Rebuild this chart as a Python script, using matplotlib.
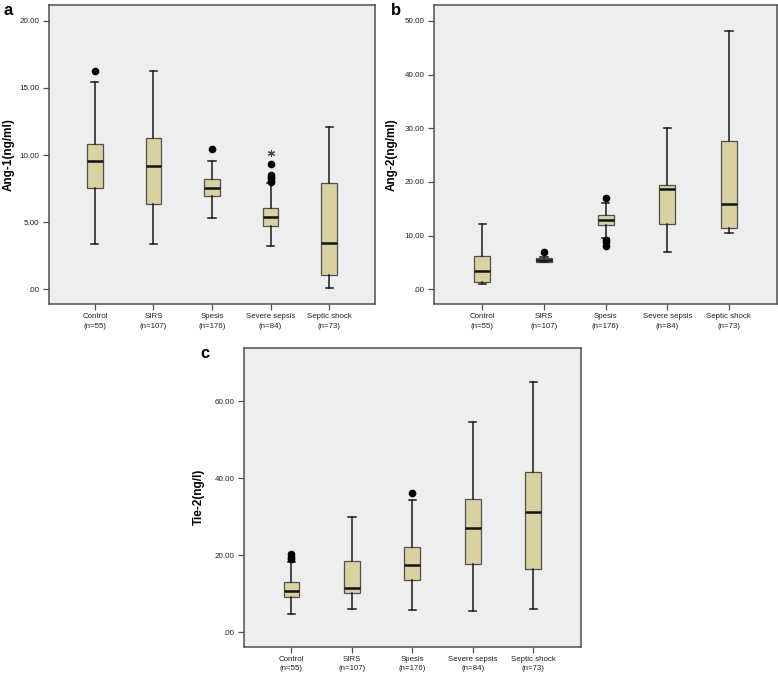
import numpy as np
import matplotlib.pyplot as plt
from matplotlib.ticker import FuncFormatter

plt.rcParams['font.family'] = ['Liberation Sans', 'DejaVu Sans']

groups = ['Control\n(n=55)', 'SIRS\n(n=107)', 'Spesis\n(n=176)',
          'Severe sepsis\n(n=84)', 'Septic shock\n(n=73)']

# Ang-1 (ng/ml)
ang1_low = [3.35, 3.35, 5.31, 3.22, 0.12]
ang1_q1 = [7.57, 6.35, 6.97, 4.74, 1.09]
ang1_med = [9.55, 9.16, 7.54, 5.36, 3.42]
ang1_q3 = [10.82, 11.24, 8.21, 6.03, 7.91]
ang1_high = [15.46, 16.23, 9.58, 7.9, 12.11]
ang1_out = [[16.23], [], [10.45], [9.33, 8.5, 8.4, 8.27, 8.1, 8.0], []]
ang1_ext = [[], [], [], [10.12], []]

# Ang-2 (ng/ml)
ang2_low = [0.93, 5.1, 9.6, 6.95, 10.5]
ang2_q1 = [1.42, 5.15, 12.0, 12.2, 11.4]
ang2_med = [3.4, 5.5, 13.0, 18.7, 15.8]
ang2_q3 = [6.2, 5.9, 13.9, 19.5, 27.7]
ang2_high = [12.1, 6.1, 16.1, 30.0, 48.2]
ang2_out = [[], [7.0], [17.06, 9.2, 8.9, 8.0], [], []]
ang2_ext = [[], [], [], [], []]

# Tie-2 (ng/l)
tie2_low = [4.7, 6.0, 5.8, 5.6, 6.1]
tie2_q1 = [9.25, 10.1, 13.6, 17.7, 16.4]
tie2_med = [10.8, 11.4, 17.6, 27.2, 31.2]
tie2_q3 = [13.0, 18.5, 22.1, 34.6, 41.5]
tie2_high = [18.3, 30.0, 34.3, 54.7, 64.9]
tie2_out = [[20.3, 19.5, 19.0], [], [36.1], [], []]
tie2_ext = [[], [], [], [], []]

box_fill = '#d8d2a2'
edge = '#505050'


def fmt(v, pos):
    s = f'{v:.2f}'
    if s.startswith('0'):
        s = s[1:]
    return s


def draw_panel(ax, low, q1, med, q3, high, out, ext, ylim, yticks, ylabel):
    stats = []
    for i in range(len(groups)):
        stats.append({'whislo': low[i], 'q1': q1[i], 'med': med[i],
                      'q3': q3[i], 'whishi': high[i], 'fliers': out[i]})
    pos = np.arange(1, len(groups) + 1)
    ax.bxp(stats, positions=pos, widths=0.26, patch_artist=True,
           capwidths=0.12,
           boxprops=dict(facecolor=box_fill, edgecolor=edge, linewidth=0.9),
           whiskerprops=dict(color='#1a1a1a', linewidth=1.1),
           capprops=dict(color='#1a1a1a', linewidth=1.1),
           medianprops=dict(color='#111111', linewidth=1.8),
           flierprops=dict(marker='o', markerfacecolor='black',
                           markeredgecolor='black', markersize=4.5))
    for i, vals in enumerate(ext):
        for v in vals:
            ax.plot(pos[i], v, marker=(6, 2, 0), color='#444444',
                    markersize=5, markeredgewidth=0.8)
    ax.set_facecolor('#eeeeee')
    ax.set_xlim(0.215, 5.785)
    ax.set_ylim(*ylim)
    ax.set_yticks(yticks)
    ax.yaxis.set_major_formatter(FuncFormatter(fmt))
    ax.set_xticks(pos)
    ax.set_xticklabels(groups, fontsize=5.7, color='#222222', linespacing=1.55)
    ax.tick_params(axis='y', labelsize=5.8, labelcolor='#222222', pad=3)
    ax.tick_params(axis='x', pad=2.5)
    ax.tick_params(direction='out', length=4, width=0.9, color=edge)
    for sp in ax.spines.values():
        sp.set_color(edge)
        sp.set_linewidth(1.1)
    ax.set_ylabel(ylabel, fontsize=8.5, fontweight='bold')


fig = plt.figure(figsize=(7.78, 6.75), dpi=100)

ax_a = fig.add_axes([0.063, 0.5496, 0.419, 0.4426])
draw_panel(ax_a, ang1_low, ang1_q1, ang1_med, ang1_q3, ang1_high, ang1_out,
           ang1_ext, (-1.09, 21.15), [0, 5, 10, 15, 20], 'Ang-1(ng/ml)')
ax_a.yaxis.set_label_coords(-0.104, 0.5)

ax_b = fig.add_axes([0.558, 0.5496, 0.441, 0.4426])
draw_panel(ax_b, ang2_low, ang2_q1, ang2_med, ang2_q3, ang2_high, ang2_out,
           ang2_ext, (-2.74, 52.9), [0, 10, 20, 30, 40, 50], 'Ang-2(ng/ml)')
ax_b.yaxis.set_label_coords(-0.105, 0.5)

ax_c = fig.add_axes([0.3136, 0.0419, 0.4328, 0.443])
draw_panel(ax_c, tie2_low, tie2_q1, tie2_med, tie2_q3, tie2_high, tie2_out,
           tie2_ext, (-3.74, 73.9), [0, 20, 40, 60], 'Tie-2(ng/l)')
ax_c.yaxis.set_label_coords(-0.116, 0.5)

fig.text(0.004, 0.995, 'a', fontsize=12, fontweight='bold', va='top')
fig.text(0.502, 0.995, 'b', fontsize=12, fontweight='bold', va='top')
fig.text(0.257, 0.487, 'c', fontsize=12, fontweight='bold', va='top')

fig.savefig('out.png', dpi=100)
